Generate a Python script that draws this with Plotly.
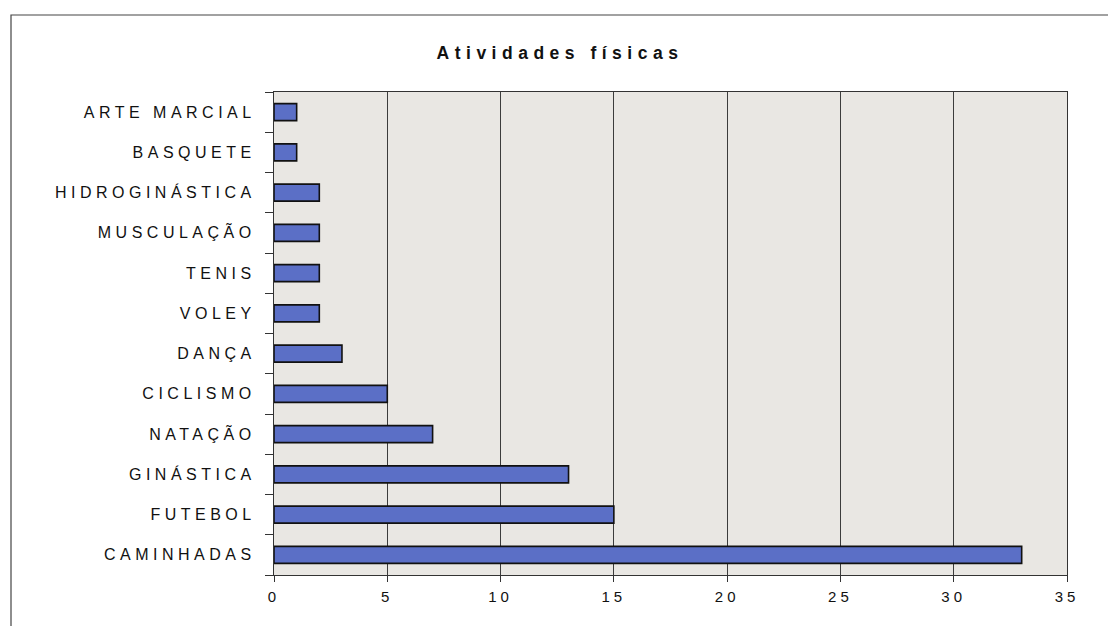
import plotly.graph_objects as go

# Activities, listed bottom to top as they appear on the category axis
atividades = [
    "CAMINHADAS", "FUTEBOL", "GINÁSTICA", "NATAÇÃO", "CICLISMO", "DANÇA",
    "VOLEY", "TENIS", "MUSCULAÇÃO", "HIDROGINÁSTICA", "BASQUETE", "ARTE MARCIAL",
]
praticantes = [33, 15, 13, 7, 5, 3, 2, 2, 2, 2, 1, 1]
x_ticks = [0, 5, 10, 15, 20, 25, 30, 35]

W, H = 1108, 626
L, R, T, B = 274, 41, 92, 51

fig = go.Figure(
    go.Bar(
        x=praticantes,
        y=atividades,
        orientation="h",
        width=0.42,
        marker=dict(color="#5b6fc6", line=dict(color="#111111", width=1.6)),
        hoverinfo="x+y",
    )
)

font = "Liberation Sans, Arial, sans-serif"

fig.update_layout(
    width=W,
    height=H,
    margin=dict(l=L, r=R, t=T, b=B),
    paper_bgcolor="white",
    plot_bgcolor="#e9e7e3",
    showlegend=False,
    title=dict(
        text="<b>Atividades físicas</b>",
        x=560 / W,
        xref="container",
        xanchor="center",
        y=1 - 53 / H,
        yref="container",
        yanchor="middle",
        font=dict(family=font, size=17.5, color="#111111"),
    ),
    xaxis=dict(
        range=[0, 35],
        tickvals=x_ticks,
        ticktext=[str(v) for v in x_ticks],
        showgrid=True,
        gridcolor="#3c3c3c",
        gridwidth=1,
        zeroline=False,
        showline=True,
        linecolor="#333333",
        linewidth=1,
        mirror=True,
        ticks="outside",
        ticklen=6,
        tickcolor="#333333",
        ticklabelstandoff=2,
        tickfont=dict(family=font, size=15, color="#111111"),
        fixedrange=True,
    ),
    yaxis=dict(
        categoryorder="array",
        categoryarray=atividades,
        tickson="boundaries",
        ticks="outside",
        ticklen=8,
        tickcolor="#333333",
        showgrid=False,
        showline=True,
        linecolor="#333333",
        linewidth=1.2,
        mirror=True,
        ticklabelstandoff=14,
        tickfont=dict(family=font, size=16, color="#111111"),
        fixedrange=True,
    ),
)

# Outer chart frame
pw, ph = W - L - R, H - T - B
fig.add_shape(
    type="rect",
    xref="paper", yref="paper",
    x0=(11 - L) / pw, x1=(W + 20 - L) / pw,
    y0=-(H + 20 - (H - B)) / ph, y1=((H - B) - 15) / ph,
    line=dict(color="#444444", width=1.2),
    fillcolor="rgba(0,0,0,0)",
    layer="below",
)

# Wide letter spacing on all chart text
post = """
var gd = document.getElementById('{plot_id}');
function spread() {
  gd.querySelectorAll('.ytick text').forEach(function(t){ t.style.letterSpacing = '4.5px'; });
  gd.querySelectorAll('.xtick text').forEach(function(t){ t.style.letterSpacing = '4px'; });
  gd.querySelectorAll('.gtitle').forEach(function(t){ t.style.letterSpacing = '5.5px'; });
}
spread();
gd.on('plotly_afterplot', spread);
"""

fig.write_html("out.html", post_script=post, config={"displayModeBar": False})
